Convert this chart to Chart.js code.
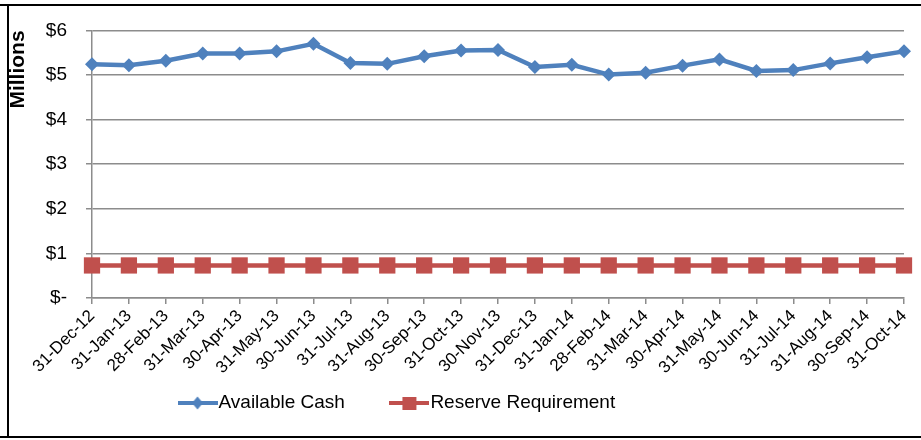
<!DOCTYPE html>
<html>
<head>
<meta charset="utf-8">
<script src="https://cdn.jsdelivr.net/npm/chart.js@4.4.0/dist/chart.umd.min.js"></script>
<style>
  html, body { margin: 0; padding: 0; background: #fff; }
  #wrap { position: relative; width: 921px; height: 440px; }
</style>
</head>
<body>
<div id="wrap"><canvas id="cashChart" width="921" height="440"></canvas></div>
<script>
// month-end dates
const monthLabels = [
  "31-Dec-12", "31-Jan-13", "28-Feb-13", "31-Mar-13", "30-Apr-13", "31-May-13",
  "30-Jun-13", "31-Jul-13", "31-Aug-13", "30-Sep-13", "31-Oct-13", "30-Nov-13",
  "31-Dec-13", "31-Jan-14", "28-Feb-14", "31-Mar-14", "30-Apr-14", "31-May-14",
  "30-Jun-14", "31-Jul-14", "31-Aug-14", "30-Sep-14", "31-Oct-14"
];

// values in $ millions
const availableCash = [
  5.24, 5.22, 5.32, 5.48, 5.48, 5.53, 5.70, 5.27, 5.25, 5.42, 5.55, 5.56,
  5.18, 5.23, 5.01, 5.05, 5.21, 5.35, 5.09, 5.11, 5.26, 5.40, 5.53
];
const reserveRequirement = [
  0.73, 0.73, 0.73, 0.73, 0.73, 0.73, 0.73, 0.73, 0.73, 0.73, 0.73, 0.73,
  0.73, 0.73, 0.73, 0.73, 0.73, 0.73, 0.73, 0.73, 0.73, 0.73, 0.73
];

const yTickLabels = ["$-", "$1", "$2", "$3", "$4", "$5", "$6"];
const seriesNames = ["Available Cash", "Reserve Requirement"];

const BLUE = "#4F81BD";
const RED = "#C0504D";
const GRID = "#8c8c8c";
const FONT = "'Liberation Sans', Arial, sans-serif";

// little line+marker swatch, like the Excel legend
function legendIcon(color, shape) {
  const c = document.createElement("canvas");
  c.width = 40;
  c.height = 16;
  const g = c.getContext("2d");
  g.strokeStyle = color;
  g.lineWidth = 4;
  g.beginPath();
  g.moveTo(0, 8);
  g.lineTo(40, 8);
  g.stroke();
  g.fillStyle = color;
  if (shape === "diamond") {
    g.beginPath();
    g.moveTo(20, 1.5);
    g.lineTo(25.5, 8);
    g.lineTo(20, 14.5);
    g.lineTo(14.5, 8);
    g.closePath();
    g.fill();
  } else {
    g.fillRect(13, 2, 14, 13);
  }
  return c;
}
const legendIcons = [legendIcon(BLUE, "diamond"), legendIcon(RED, "square")];

const LEGEND_PAD = 53;
const LEGEND_H = 40;

const framePlugin = {
  id: "frame",
  afterLayout(chart) {
    // put the legend where Excel had it
    const lg = chart.legend;
    if (!lg) return;
    const w = lg.right - lg.left;
    lg.left = 186 - LEGEND_PAD;
    lg.right = lg.left + w;
    lg.top = 403 - LEGEND_PAD - 9.5;
    lg.bottom = 436;
  },
  beforeDraw(chart) {
    const ctx = chart.ctx;
    ctx.save();
    ctx.fillStyle = "#fff";
    ctx.fillRect(0, 0, chart.width, chart.height);
    ctx.strokeStyle = "#000";
    ctx.lineWidth = 2;
    ctx.beginPath();
    ctx.moveTo(0, 5);
    ctx.lineTo(chart.width, 5);
    ctx.moveTo(8, 5);
    ctx.lineTo(8, 437);
    ctx.moveTo(0, 437);
    ctx.lineTo(chart.width, 437);
    ctx.stroke();
    ctx.restore();
  },
};

new Chart(document.getElementById("cashChart"), {
  type: "line",
  data: {
    labels: monthLabels,
    datasets: [
      {
        label: seriesNames[0],
        data: availableCash,
        borderColor: BLUE,
        backgroundColor: BLUE,
        borderWidth: 4.5,
        pointStyle: "rectRot",
        pointRadius: 7,
        pointBorderWidth: 0,
        pointHoverRadius: 7,
        tension: 0,
        clip: false,
      },
      {
        label: seriesNames[1],
        data: reserveRequirement,
        borderColor: RED,
        backgroundColor: RED,
        borderWidth: 4.5,
        pointStyle: "rect",
        pointRadius: 11.5,
        pointBorderWidth: 0,
        pointHoverRadius: 11.5,
        tension: 0,
        clip: false,
      },
    ],
  },
  options: {
    responsive: false,
    animation: false,
    layout: { padding: { left: 8, right: 17, top: 29, bottom: 0 } },
    scales: {
      x: {
        offset: false,
        grid: {
          display: true,
          drawOnChartArea: false,
          color: GRID,
          lineWidth: 1.5,
          tickLength: 6,
        },
        border: { color: GRID, width: 1.5 },
        ticks: {
          autoSkip: false,
          maxRotation: 45,
          minRotation: 45,
          padding: 2,
          color: "#000",
          font: { family: FONT, size: 17 },
        },
        afterFit(scale) {
          const lg = scale.chart.legend;
          const lgH = lg ? lg.height : 0;
          scale.height = 440 - 298 - lgH;
        },
      },
      y: {
        min: 0,
        max: 6,
        grid: { color: GRID, lineWidth: 1.5, tickLength: 6 },
        border: { color: GRID, width: 1.5 },
        ticks: {
          stepSize: 1,
          padding: 19,
          color: "#000",
          font: { family: FONT, size: 19 },
          callback: (v, i) => yTickLabels[i],
        },
        title: {
          display: true,
          text: "Millions",
          align: "end",
          color: "#000",
          padding: 0,
          font: { family: FONT, size: 21, weight: "bold", lineHeight: 1 },
        },
        afterFit(scale) {
          scale.width = 92 - 8;
        },
      },
    },
    plugins: {
      legend: {
        position: "bottom",
        align: "start",
        maxHeight: LEGEND_H,
        labels: {
          usePointStyle: true,
          pointStyleWidth: 23,
          padding: LEGEND_PAD,
          color: "#000",
          font: { family: FONT, size: 19 },
          generateLabels(chart) {
            const items = Chart.defaults.plugins.legend.labels.generateLabels(chart);
            items.forEach((it, i) => {
              it.pointStyle = legendIcons[i];
            });
            return items;
          },
        },
      },
      tooltip: { enabled: false },
    },
  },
  plugins: [framePlugin],
});
</script>
</body>
</html>
